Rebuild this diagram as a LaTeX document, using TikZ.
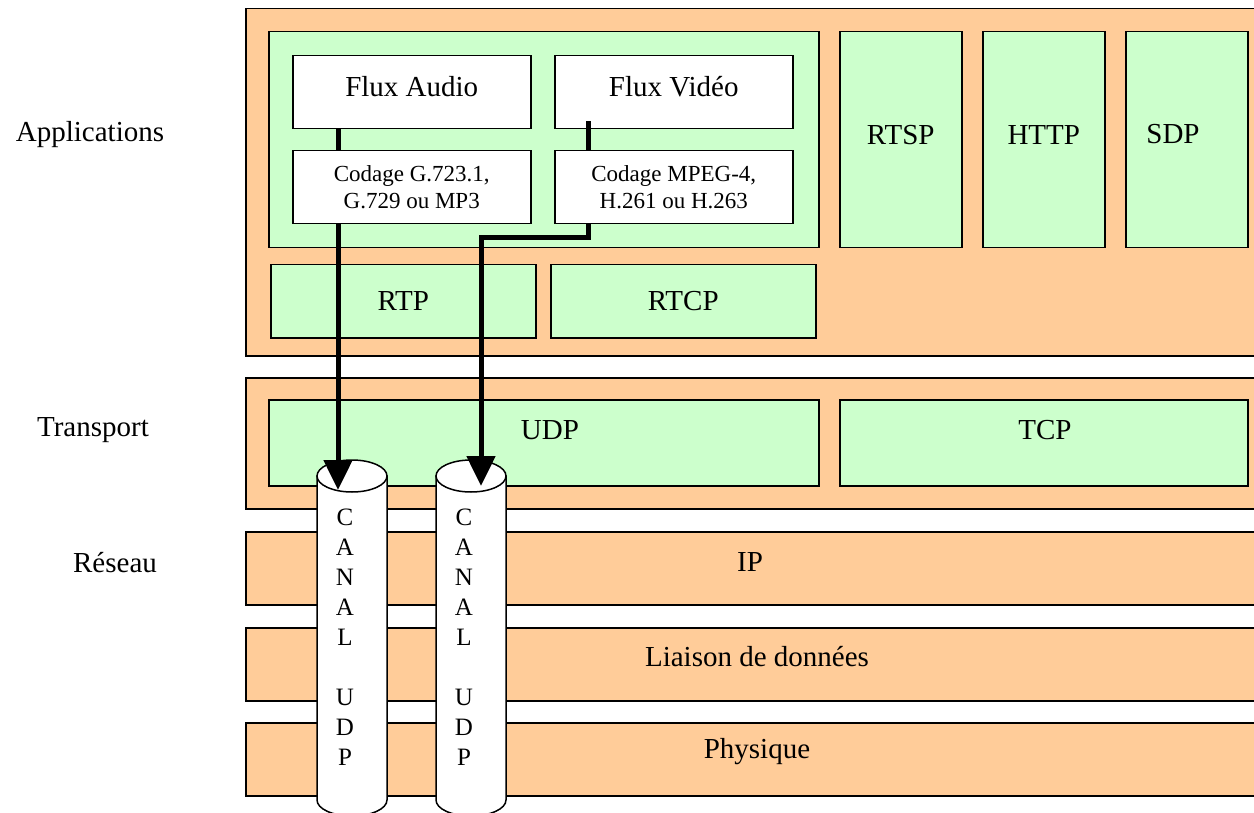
\documentclass[tikz,border=0pt]{standalone}
\usepackage{fontspec}
\setmainfont{Liberation Serif}
\usetikzlibrary{arrows.meta}
\definecolor{couche}{RGB}{255,204,153}
\definecolor{proto}{RGB}{204,255,204}
\tikzset{
	layer/.style={draw=black, line width=1.5pt, fill=couche, inner sep=0pt, anchor=north west},
	pbox/.style={draw=black, line width=1.5pt, fill=proto, inner sep=0pt, anchor=north west, font=\fontsize{29}{34}\selectfont},
	wbox/.style={draw=black, line width=1.5pt, fill=white, inner sep=0pt, anchor=north west, align=center},
	haut/.style={text height=20pt, text depth=11pt},
	big/.style={font=\fontsize{29}{34}\selectfont},
	small/.style={font=\fontsize{23}{27}\selectfont},
	canal/.style={align=center, inner sep=0pt, font=\fontsize{25}{30}\selectfont},
	flux/.style={line width=5pt},
	fleche/.style={flux, -{Triangle[width=28pt,length=30pt]}}
}
\begin{document}
\begin{tikzpicture}[x=1pt,y=-1pt]
		\useasboundingbox (0,0) rectangle (1254,813);
		%%  Couches  %%%%%%%%
		\node[layer, minimum width=1013pt, minimum height=347pt] (appli) at (245,8) {};
		\node[layer, minimum width=1013pt, minimum height=131pt] (transp) at (245,377) {};
		\node[layer, minimum width=1013pt, minimum height=73pt] (reseau) at (245,531) {};
		\node[layer, minimum width=1013pt, minimum height=73pt] (liaison) at (245,627) {};
		\node[layer, minimum width=1013pt, minimum height=73pt] (phys) at (245,722) {};
		%%  Protocoles  %%%%%%%%
		\node[pbox, minimum width=550pt, minimum height=216pt] (appbox) at (268,31) {};
		\node[pbox, minimum width=265pt, minimum height=73pt] (rtp) at (270,264) {RTP};
		\node[pbox, minimum width=265pt, minimum height=73pt] (rtcp) at (550,264) {RTCP};
		\node[pbox, haut, minimum width=122pt, minimum height=216pt] (rtsp) at (839,31) {RTSP};
		\node[pbox, haut, minimum width=122pt, minimum height=216pt] (http) at (982,31) {HTTP};
		\node[pbox, minimum width=122pt, minimum height=216pt] (sdp) at (1125,31) {};
		\node[pbox, minimum width=550pt, minimum height=86pt] (udp) at (268,399) {};
		\node[pbox, minimum width=408pt, minimum height=86pt] (tcp) at (839,399) {};
		%%  Flux  %%%%%%%%
		\node[wbox, big, haut, minimum width=238pt, minimum height=73pt] (faudio) at (292,55) {Flux Audio};
		\node[wbox, big, haut, minimum width=238pt, minimum height=73pt] (fvideo) at (554,55) {Flux Vidéo};
		\node[wbox, small, minimum width=238pt, minimum height=73pt] (caudio) at (292,150) {Codage G.723.1,\\G.729 ou MP3};
		\node[wbox, small, minimum width=238pt, minimum height=73pt] (cvideo) at (554,150) {Codage MPEG-4,\\H.261 ou H.263};
		%%  Canaux UDP  %%%%%%%%
		\foreach \cx in {352,471}{
			\draw[line width=1.5pt, fill=white] (\cx-35,476) -- (\cx-35,800)
				arc[start angle=180, end angle=0, x radius=35, y radius=16] -- (\cx+35,476) -- cycle;
			\draw[line width=1.5pt, fill=white] (\cx,476) ellipse[x radius=35, y radius=16];
		}
		\node[canal] (canalA) at (345,637) {C\\A\\N\\A\\L\\~\\U\\D\\P};
		\node[canal] (canalB) at (464,637) {C\\A\\N\\A\\L\\~\\U\\D\\P};
		%%  Textes  %%%%%%%%
		\node[big] (tsdp) at (1173,134) {SDP};
		\node[big] (tudp) at (550,430) {UDP};
		\node[big] (ttcp) at (1045,430) {TCP};
		\node[big] (tip) at (750,562) {IP};
		\node[big] (tliaison) at (757,657) {Liaison de données};
		\node[big] (tphys) at (757,752) {Physique};
		\node[big] (lapp) at (90,135) {Applications};
		\node[big] (ltransp) at (93,430) {Transport};
		\node[big] (lreseau) at (115,563) {Réseau};
		%%  Fleches  %%%%%%%%
		\coordinate (xa) at (338,0);
		\coordinate (xv) at (588,0);
		\coordinate (cylA) at (338,490);
		\coordinate (cylB) at (481,486);
		\draw[flux] (xa |- faudio.south) -- (xa |- caudio.north);
		\draw[fleche] (xa |- caudio.south) -- (cylA);
		\draw[flux] ([yshift=8pt]xv |- fvideo.south) -- (xv |- cvideo.north);
		\draw[fleche] (xv |- cvideo.south) -- ++(0,13) -| (cylB);
\end{tikzpicture}
\end{document}
